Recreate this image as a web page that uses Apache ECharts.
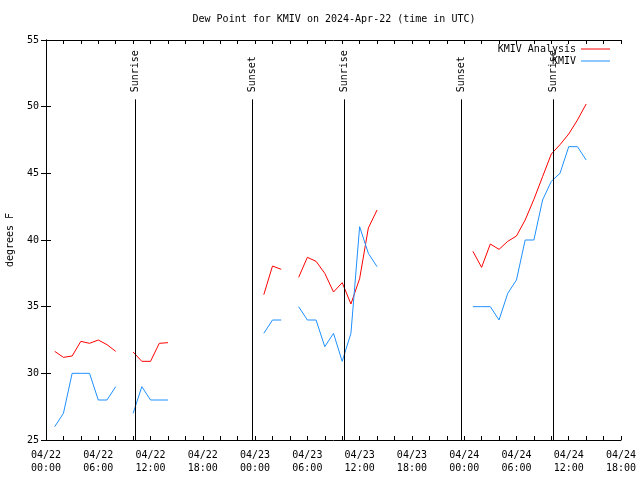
<!DOCTYPE html>
<html><head><meta charset="utf-8">
<script src="https://cdn.jsdelivr.net/npm/echarts@6/dist/echarts.min.js"></script>
<style>html,body{margin:0;padding:0;background:#fff}#c{width:640px;height:480px}</style>
</head><body><div id="c"></div>
<script>
// hours since 2024-04-22 00:00 UTC
const hours = [1,2,3,4,5,6,7,8,9,10,11,12,13,14,15,16,17,18,19,20,21,22,23,24,25,26,27,28,29,30,31,32,33,34,35,36,37,38,39,40,41,42,43,44,45,46,47,48,49,50,51,52,53,54,55,56,57,58,59,60,61,62];
const analysis = [31.65,31.2,31.3,32.4,32.25,32.5,32.15,31.65,null,
  31.6,30.9,30.9,32.25,32.3,
  null,null,null,null,null,null,null,null,null,null,
  35.9,38.05,37.8,null,
  37.2,38.7,38.4,37.5,36.1,36.8,35.2,37.1,40.9,42.25,
  null,null,null,null,null,null,null,null,null,null,
  39.15,37.95,39.7,39.3,39.9,40.3,41.5,43.05,44.75,46.45,47.15,47.95,49.0,50.2];
const kmiv = [26,27,30,30,30,28,28,29,null,
  27,29,28,28,28,
  null,null,null,null,null,null,null,null,null,null,
  33,34,34,null,
  35,34,34,32,33,30.9,33,41,39,38,
  null,null,null,null,null,null,null,null,null,null,
  35,35,35,34,36,37,40,40,43,44.4,45,47,47,46];
const sunEvents = ['Sunrise','Sunset','Sunrise','Sunset','Sunrise'];
const sunHours = [10.25, 23.72, 34.24, 47.68, 58.23];
const sunLineTop = 50.55;

const FONT = 'DejaVu Sans Mono';
const pad = n => (n < 10 ? '0' : '') + n;
const xFmt = v => '04/' + (22 + Math.floor(v / 24)) + '\n' + pad(v % 24) + ':00';

const chart = echarts.init(document.getElementById('c'), null, {renderer: 'canvas'});
const baseX = {
  type: 'value', min: 0, max: 66, interval: 6,
  axisLine: {show: true, lineStyle: {color: '#000', width: 1}},
  axisTick: {show: true, inside: true, length: 4, lineStyle: {color: '#000'}},
  minorTick: {show: true, splitNumber: 3, length: 4, lineStyle: {color: '#000'}},
  splitLine: {show: false}
};
const baseY = {
  type: 'value', min: 25, max: 55, interval: 5,
  axisLine: {show: true, lineStyle: {color: '#000', width: 1}},
  axisTick: {show: true, inside: true, length: 5, lineStyle: {color: '#000'}},
  splitLine: {show: false}
};
const legendBase = {
  orient: 'vertical', right: 30, padding: 0, align: 'right',
  icon: 'rect', itemWidth: 29, itemHeight: 1, itemGap: 0,
  textStyle: {fontFamily: FONT, fontSize: 10, color: '#000'}
};
chart.setOption({
  animation: false,
  title: {
    text: 'Dew Point for KMIV on 2024-Apr-22 (time in UTC)',
    left: 334, top: 14, textAlign: 'center', padding: 0,
    textStyle: {fontFamily: FONT, fontSize: 10, fontWeight: 'normal', color: '#000'}
  },
  legend: [
    Object.assign({data: ['KMIV Analysis'], top: 44}, legendBase),
    Object.assign({data: ['KMIV'], top: 56}, legendBase)
  ],
  grid: {left: 46, right: 19, top: 40, bottom: 40, containLabel: false, outerBoundsMode: 'none'},
  xAxis: [
    Object.assign({position: 'bottom', axisLabel: {show: true, formatter: xFmt, margin: 9, lineHeight: 13, color: '#000', fontFamily: FONT, fontSize: 10, showMaxLabel: true, showMinLabel: true}}, baseX),
    Object.assign({position: 'top', axisLabel: {show: false}}, baseX)
  ],
  yAxis: [
    Object.assign({position: 'left', name: 'degrees F', nameLocation: 'middle', nameGap: 31,
      nameTextStyle: {fontFamily: FONT, fontSize: 10, color: '#000'},
      axisLabel: {margin: 7, color: '#000', fontFamily: FONT, fontSize: 10}}, baseY),
    Object.assign({position: 'right', axisLabel: {show: false}}, baseY)
  ],
  series: [
    {
      name: 'KMIV Analysis', type: 'line', symbol: 'none', connectNulls: false,
      lineStyle: {color: '#ff0000', width: 1}, itemStyle: {color: '#ff0000'},
      data: hours.map((h, i) => [h, analysis[i]])
    },
    {
      name: 'KMIV', type: 'line', symbol: 'none', connectNulls: false,
      lineStyle: {color: '#1e90ff', width: 1}, itemStyle: {color: '#1e90ff'},
      data: hours.map((h, i) => [h, kmiv[i]]),
      markLine: {
        silent: true, symbol: 'none', animation: false,
        lineStyle: {color: '#000', width: 1, type: 'solid'},
        label: {show: false},
        data: sunHours.map(h => [{coord: [h, 25]}, {coord: [h, sunLineTop]}])
      },
      markPoint: {
        silent: true, symbol: 'circle', symbolSize: 0, animation: false,
        label: {show: true, position: 'top', distance: 7, rotate: 90, align: 'left', verticalAlign: 'middle',
          formatter: '{b}', color: '#000', fontFamily: FONT, fontSize: 10},
        data: sunHours.map((h, i) => ({name: sunEvents[i], coord: [h, sunLineTop]}))
      }
    }
  ]
});
</script></body></html>
